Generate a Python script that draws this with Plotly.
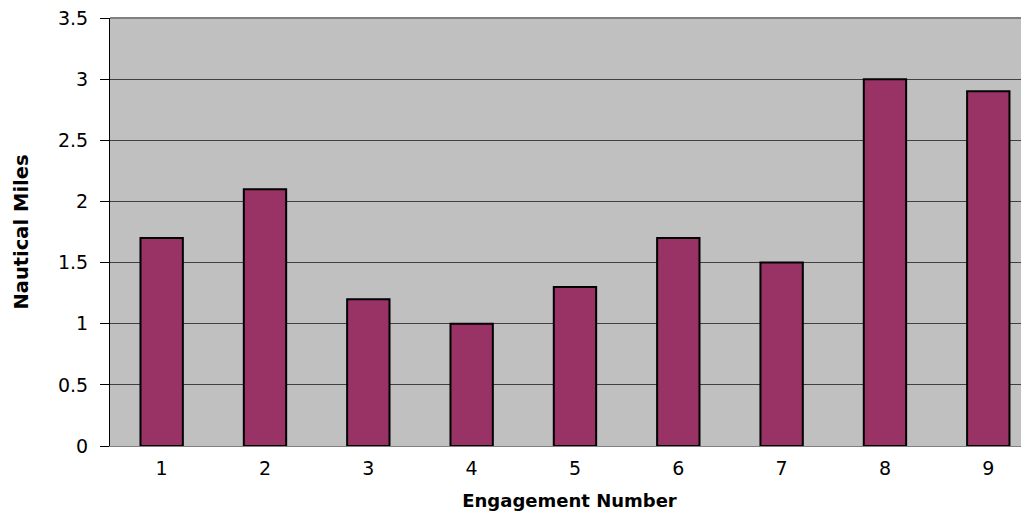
import plotly.graph_objects as go

categories = ["1", "2", "3", "4", "5", "6", "7", "8", "9"]
values = [1.7, 2.1, 1.2, 1.0, 1.3, 1.7, 1.5, 3.0, 2.9]
y_ticks = [0, 0.5, 1, 1.5, 2, 2.5, 3, 3.5]
y_tick_labels = ["0", "0.5", "1", "1.5", "2", "2.5", "3", "3.5"]

fig = go.Figure(go.Bar(
    x=categories, y=values,
    marker=dict(color="#993366", line=dict(color="#000000", width=2)),
    width=0.41,
))

fig.update_layout(
    width=1021, height=503,
    margin=dict(l=102, r=0, t=10, b=65),
    paper_bgcolor="white",
    plot_bgcolor="#C0C0C0",
    showlegend=False,
    font=dict(family="DejaVu Sans, Liberation Sans, sans-serif", color="black"),
    shapes=[dict(type="line", xref="paper", yref="paper", x0=0, x1=1, y0=1, y1=1,
                 line=dict(color="#808080", width=2))],
)
fig.update_xaxes(
    type="category",
    range=[-0.5, 8.394],
    automargin=False,
    tickfont=dict(size=19),
    ticklabelstandoff=5,
    title=dict(text="<b>Engagement Number</b>", font=dict(size=18), standoff=24),
    showline=True, linecolor="#808080", linewidth=1,
    ticks="", showgrid=False,
)
fig.update_yaxes(
    range=[0, 3.5],
    automargin=False,
    tickvals=y_ticks, ticktext=y_tick_labels,
    tickfont=dict(size=19),
    ticklabelstandoff=8,
    ticklabeloverflow="allow",
    title=dict(text="<b>Nautical Miles</b>", font=dict(size=19.5), standoff=24),
    showline=True, linecolor="black", linewidth=1,
    ticks="outside", ticklen=9, tickcolor="black",
    showgrid=True, gridcolor="#404040", gridwidth=1,
    zeroline=False,
)

fig.write_html("out.html")
